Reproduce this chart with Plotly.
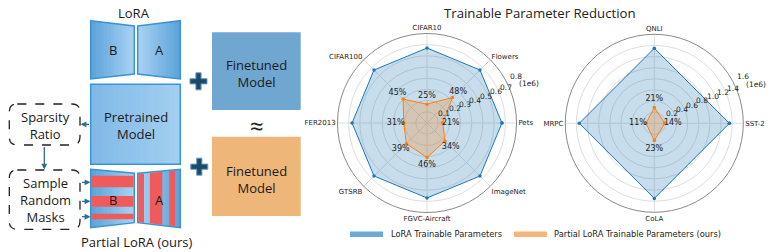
import math
import plotly.graph_objects as go

W, H = 769, 252

# ---------------- data ----------------
vision_tasks = ["Pets", "Flowers", "CIFAR10", "CIFAR100", "FER2013", "GTSRB", "FGVC-Aircraft", "ImageNet"]
vision_lora = [0.67e6, 0.67e6, 0.67e6, 0.67e6, 0.67e6, 0.67e6, 0.67e6, 0.67e6]
vision_partial = [0.141e6, 0.322e6, 0.168e6, 0.302e6, 0.208e6, 0.261e6, 0.308e6, 0.228e6]
vision_pct = ["21%", "48%", "25%", "45%", "31%", "39%", "46%", "34%"]
vision_ticks = [0.1e6, 0.2e6, 0.3e6, 0.4e6, 0.5e6, 0.6e6, 0.7e6]
vision_ticktext = ["0.1", "0.2", "0.3", "0.4", "0.5", "0.6", "0.7"]

glue_tasks = ["SST-2", "QNLI", "MRPC", "CoLA"]
glue_lora = [1.35e6, 1.35e6, 1.35e6, 1.35e6]
glue_partial = [0.189e6, 0.284e6, 0.149e6, 0.311e6]
glue_pct = ["14%", "21%", "11%", "23%"]
glue_ticks = [0.2e6, 0.4e6, 0.6e6, 0.8e6, 1.0e6, 1.2e6, 1.4e6]
glue_ticktext = ["0.2", "0.4", "0.6", "0.8", "1.0", "1.2", "1.4"]

BLUE = "#1f77b4"
ORANGE = "#ff7f0e"
TXT = "#1a1a1a"
DFONT = "Open Sans"

# polar placement (pixels)
POL1 = dict(x=[337.5, 516.5], y=[39.5, 218.5], rmax=0.8e6)
POL2 = dict(x=[565.3, 743.3], y=[39.7, 217.7], rmax=1.6e6)
RLABEL_ANGLE = 22.5

fig = go.Figure()
shapes = []
annotations = []


def radar(tasks, lora, partial, pct, sub, rmax, rad_px):
    th = tasks + tasks[:1]
    fig.add_trace(go.Scatterpolar(
        r=lora + lora[:1], theta=th, mode="lines+markers", fill="toself",
        fillcolor="rgba(31,119,180,0.25)", line=dict(color=BLUE, width=1),
        marker=dict(size=3.5, color=BLUE), subplot=sub, showlegend=False, hoverinfo="skip"))
    fig.add_trace(go.Scatterpolar(
        r=partial + partial[:1], theta=th, mode="lines+markers", fill="toself",
        fillcolor="rgba(255,127,14,0.25)", line=dict(color=ORANGE, width=1),
        marker=dict(size=3.5, color=ORANGE), subplot=sub, showlegend=False, hoverinfo="skip"))
    off = 8.0 / rad_px * rmax
    fig.add_trace(go.Scatterpolar(
        r=[p + off for p in partial], theta=tasks, mode="text", text=pct,
        textfont=dict(family="DejaVu Sans", size=8, color="#222"),
        subplot=sub, showlegend=False, hoverinfo="skip"))


def polar_layout(pol, tv):
    return dict(
        domain=dict(x=[pol["x"][0] / W, pol["x"][1] / W], y=[pol["y"][0] / H, pol["y"][1] / H]),
        bgcolor="white",
        angularaxis=dict(rotation=0, direction="counterclockwise", showline=True,
                         linecolor="#8a8a8a", linewidth=1, gridcolor="#dedede", gridwidth=0.8,
                         ticks="", tickfont=dict(family="DejaVu Sans", size=7, color="#222")),
        radialaxis=dict(range=[0, pol["rmax"]], tickvals=tv, showticklabels=False,
                        angle=RLABEL_ANGLE, showline=False,
                        gridcolor="#dedede", gridwidth=0.8, ticks=""),
    )


def radial_labels(pol, tv, tt, top_label):
    cx = (pol["x"][0] + pol["x"][1]) / 2
    cy = H - (pol["y"][0] + pol["y"][1]) / 2
    R = (pol["x"][1] - pol["x"][0]) / 2
    a = math.radians(RLABEL_ANGLE)
    font = dict(family="DejaVu Sans", size=7.5, color="#222")
    for v, s in zip(tv, tt):
        rp = v / pol["rmax"] * R
        annotations.append(dict(x=cx + rp * math.cos(a), y=cy - rp * math.sin(a), xref="x", yref="y",
                                text=s, showarrow=False, xanchor="left", yanchor="bottom",
                                borderpad=0, font=font))
    # outer label with scale factor
    ox, oy = cx + R * math.cos(a), cy - R * math.sin(a)
    annotations.append(dict(x=ox + 6.5, y=oy - 12.3, xref="x", yref="y", text=top_label,
                            showarrow=False, xanchor="center", yanchor="middle", borderpad=0,
                            font=font))
    annotations.append(dict(x=ox + 19, y=oy - 4.8, xref="x", yref="y", text="(1e6)",
                            showarrow=False, xanchor="center", yanchor="middle", borderpad=0,
                            font=font))


radar(vision_tasks, vision_lora, vision_partial, vision_pct, "polar", POL1["rmax"], 89.5)
radar(glue_tasks, glue_lora, glue_partial, glue_pct, "polar2", POL2["rmax"], 89.0)
radial_labels(POL1, vision_ticks, vision_ticktext, "0.8")
radial_labels(POL2, glue_ticks, glue_ticktext, "1.6")


# ---------------- diagram helpers (pixel coordinates) ----------------
def hex2rgb(h):
    h = h.lstrip("#")
    return tuple(int(h[i:i + 2], 16) for i in (0, 2, 4))


def lerp(c1, c2, t):
    a, b = hex2rgb(c1), hex2rgb(c2)
    return "rgb(%d,%d,%d)" % tuple(round(a[i] + (b[i] - a[i]) * t) for i in range(3))


def trap(x0, x1, lt, lb, rt, rb, cl, cr, outline="#3b93d6", n=16):
    for i in range(n):
        ta, tb = i / n, (i + 1) / n
        xa, xb = x0 + (x1 - x0) * ta, x0 + (x1 - x0) * tb + 0.6
        tb2 = min(1.0, (xb - x0) / (x1 - x0))
        yta, ytb = lt + (rt - lt) * ta, lt + (rt - lt) * tb2
        yba, ybb = lb + (rb - lb) * ta, lb + (rb - lb) * tb2
        shapes.append(dict(type="path", xref="x", yref="y",
                           path=f"M{xa},{yta} L{xb},{ytb} L{xb},{ybb} L{xa},{yba} Z",
                           fillcolor=lerp(cl, cr, (ta + tb) / 2), line=dict(width=0), layer="below"))
    shapes.append(dict(type="path", xref="x", yref="y",
                       path=f"M{x0},{lt} L{x1},{rt} L{x1},{rb} L{x0},{lb} Z",
                       fillcolor="rgba(0,0,0,0)", line=dict(color=outline, width=1.5), layer="below"))


def vstripe(x0, x1, lt, lb, rt, rb, xa, xb, color):
    ta, tb = (xa - x0) / (x1 - x0), (xb - x0) / (x1 - x0)
    yta, ytb = lt + (rt - lt) * ta, lt + (rt - lt) * tb
    yba, ybb = lb + (rb - lb) * ta, lb + (rb - lb) * tb
    shapes.append(dict(type="path", xref="x", yref="y",
                       path=f"M{xa},{yta + 0.8} L{xb},{ytb + 0.8} L{xb},{ybb - 0.8} L{xa},{yba - 0.8} Z",
                       fillcolor=color, line=dict(width=0), layer="below"))


def rrect(x0, y0, x1, y1, r):
    return (f"M{x0 + r},{y0} L{x1 - r},{y0} Q{x1},{y0} {x1},{y0 + r} L{x1},{y1 - r} "
            f"Q{x1},{y1} {x1 - r},{y1} L{x0 + r},{y1} Q{x0},{y1} {x0},{y1 - r} "
            f"L{x0},{y0 + r} Q{x0},{y0} {x0 + r},{y0} Z")


def text(x, y, s, size=13, color=TXT, family=DFONT):
    annotations.append(dict(x=x, y=y, xref="x", yref="y", text=s, showarrow=False,
                            font=dict(family=family, size=size, color=color),
                            xanchor="center", yanchor="middle"))


def arrow(x0, y0, x1, y1):
    annotations.append(dict(x=x1, y=y1, ax=x0, ay=y0, xref="x", yref="y", axref="x", ayref="y",
                            text="", showarrow=True, arrowhead=2, arrowsize=0.9, arrowwidth=1.3,
                            arrowcolor="#2e6e92"))


def plus(cx, cy, L=8.5, w=2.6):
    p = (f"M{cx - w},{cy - L} L{cx + w},{cy - L} L{cx + w},{cy - w} L{cx + L},{cy - w} "
         f"L{cx + L},{cy + w} L{cx + w},{cy + w} L{cx + w},{cy + L} L{cx - w},{cy + L} "
         f"L{cx - w},{cy + w} L{cx - L},{cy + w} L{cx - L},{cy - w} L{cx - w},{cy - w} Z")
    shapes.append(dict(type="path", xref="x", yref="y", path=p, fillcolor="#1d4a68",
                       line=dict(color="#6a9cc2", width=1)))


DARK, LIGHT = "#5aa2da", "#a9d2f2"
RED = "#f05a5a"

# LoRA (top)
text(133.5, 12.5, "LoRA", 13)
trap(90.7, 134.3, 20.7, 79, 26, 74, DARK, LIGHT)
trap(137.7, 180.3, 26, 74, 20.7, 79, LIGHT, DARK)
text(112.7, 50, "B", 13)
text(159, 50, "A", 13)

# Pretrained model
trap(90.7, 180.3, 84.3, 164.3, 84.3, 164.3, "#7fb9e6", "#a3cff1")
text(135.5, 125, "Pretrained<br>Model", 13)

# Partial LoRA (bottom)
trap(90.7, 134.3, 169.3, 227.7, 173.3, 222.7, DARK, LIGHT)
for ya, yb in [(175.7, 187.3), (196, 206.7), (213.7, 219.3)]:
    shapes.append(dict(type="rect", xref="x", yref="y", x0=91.5, x1=133.5, y0=ya, y1=yb,
                       fillcolor=RED, line=dict(width=0), layer="below"))
trap(137.7, 180.3, 173.3, 222.7, 169.3, 227.7, LIGHT, DARK)
for xa, xb in [(138.4, 144), (150, 162.3), (169.3, 175)]:
    vstripe(137.7, 180.3, 173.3, 222.7, 169.3, 227.7, xa, xb, RED)
text(112.7, 200, "B", 13)
text(159, 200, "A", 13)
text(137, 241.5, "Partial LoRA (ours)", 13)

# dashed boxes
shapes.append(dict(type="path", xref="x", yref="y", path=rrect(9.3, 104, 80, 145, 8),
                   fillcolor="rgba(0,0,0,0)", line=dict(color="#222", width=1.3, dash="dash")))
text(45, 125, "Sparsity<br>Ratio", 13)
shapes.append(dict(type="path", xref="x", yref="y", path=rrect(9.3, 170, 80, 229.3, 8),
                   fillcolor="rgba(0,0,0,0)", line=dict(color="#222", width=1.3, dash="dash")))
text(45, 200, "Sample<br>Random<br>Masks", 13)

# arrows
arrow(90.5, 124.3, 80.5, 124.3)
arrow(44.3, 145.5, 44.3, 169.5)
for yy in [182.3, 201.3, 216.7]:
    arrow(80.5, yy, 90.5, yy)

# plus signs & finetuned models
plus(198.5, 81.3)
plus(199.3, 166.7)
shapes.append(dict(type="rect", xref="x", yref="y", x0=212, x1=300.7, y0=32.3, y1=110,
                   fillcolor="#6fa7d1", line=dict(width=0)))
text(256.3, 73.5, "Finetuned<br>Model", 13)
shapes.append(dict(type="rect", xref="x", yref="y", x0=212, x1=300.7, y0=136.7, y1=216,
                   fillcolor="#eeb679", line=dict(width=0)))
text(256.3, 179, "Finetuned<br>Model", 13)
text(257, 125, "≈", 24, "#222")

# ---------------- title & legend ----------------
text(540, 13, "Trainable Parameter Reduction", 13.2, "#222", "Open Sans")

shapes.append(dict(type="rect", xref="x", yref="y", x0=350, x1=383, y0=231.5, y1=237,
                   fillcolor="#6ba9d6", line=dict(width=0)))
annotations.append(dict(x=389, y=234.3, xref="x", yref="y", text="LoRA Trainable Parameters",
                        showarrow=False, xanchor="left", yanchor="middle",
                        font=dict(family="DejaVu Sans", size=8.3, color="#222")))
shapes.append(dict(type="rect", xref="x", yref="y", x0=514, x1=547, y0=231.5, y1=237,
                   fillcolor="#f4b67b", line=dict(width=0)))
annotations.append(dict(x=552, y=234.3, xref="x", yref="y",
                        text="Partial LoRA Trainable Parameters (ours)",
                        showarrow=False, xanchor="left", yanchor="middle",
                        font=dict(family="DejaVu Sans", size=8.3, color="#222")))

fig.update_layout(
    width=W, height=H, margin=dict(l=0, r=0, t=0, b=0),
    paper_bgcolor="white", plot_bgcolor="rgba(0,0,0,0)", showlegend=False,
    xaxis=dict(domain=[0, 1], range=[0, W], visible=False, fixedrange=True),
    yaxis=dict(domain=[0, 1], range=[H, 0], visible=False, fixedrange=True),
    polar=polar_layout(POL1, vision_ticks),
    polar2=polar_layout(POL2, glue_ticks),
    shapes=shapes, annotations=annotations,
)

fig.write_html("out.html", config={"displayModeBar": False},
               post_script="document.body.style.margin='0px';")
